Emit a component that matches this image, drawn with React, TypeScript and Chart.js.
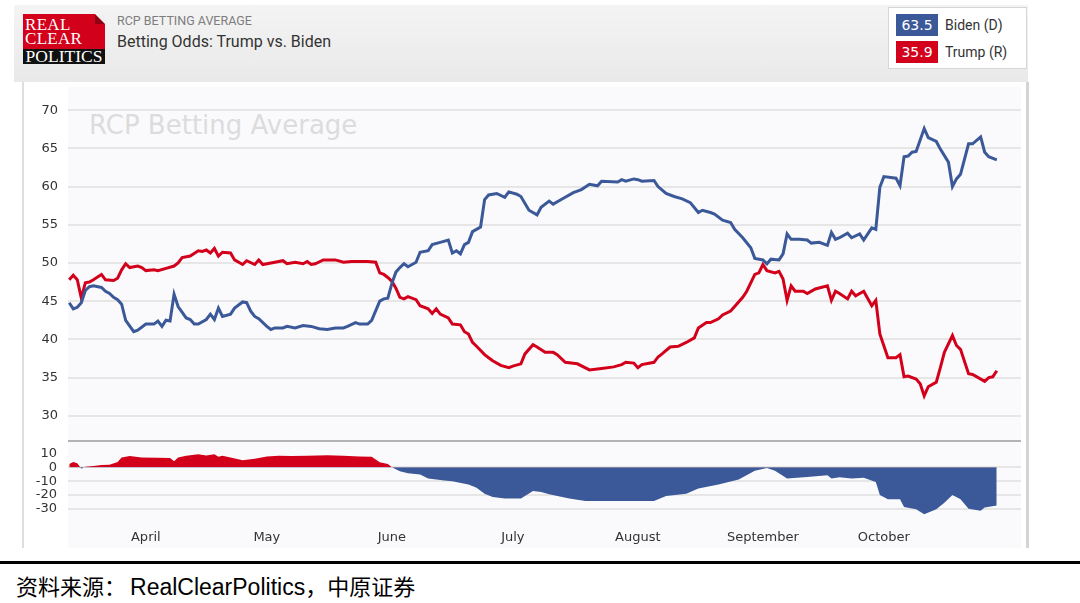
import React, { useEffect, useRef } from "react";
import { Chart, registerables } from "chart.js";

Chart.register(...registerables);

// x values are days counted from 1 April 2020 (negative = March)
const monthDays = [0, 30, 61, 91, 122, 153, 183];
const monthLabels = ["April", "May", "June", "July", "August", "September", "October"];
const mainTicks = [30, 35, 40, 45, 50, 55, 60, 65, 70];
const spreadTicks = [10, 0, -10, -20, -30];

const biden: [number, number][] = [
  [-19, 44.8], [-18, 44.0], [-17, 44.2], [-16, 44.8], [-15, 46.4], [-14, 46.9], [-13, 47.0], [-11, 46.8],
  [-10, 46.3], [-9, 46.0], [-8, 45.5], [-7, 45.2], [-6, 44.6], [-5, 42.5], [-3, 41.0], [-2, 41.2],
  [0, 42.0], [2, 42.0], [3, 42.4], [4, 41.7], [5, 42.5], [6, 42.4], [7, 45.9], [8, 44.3],
  [10, 42.8], [11, 42.6], [12, 42.0], [13, 42.0], [15, 42.6], [16, 43.3], [17, 42.6], [18, 44.1],
  [19, 43.0], [21, 43.3], [22, 44.1], [24, 44.9], [25, 44.8], [26, 43.7], [27, 43.0], [28, 42.7],
  [30, 41.7], [31, 41.3], [32, 41.5], [34, 41.5], [35, 41.7], [37, 41.5], [39, 41.8], [41, 41.7],
  [43, 41.4], [45, 41.3], [47, 41.5], [49, 41.5], [50, 41.7], [52, 42.2], [53, 42.0], [55, 42.0],
  [56, 42.5], [58, 45.0], [59, 45.3], [60, 45.4], [61, 47.3], [62, 48.8], [63, 49.4], [64, 49.9],
  [65, 49.5], [67, 50.1], [68, 51.4], [70, 51.6], [71, 52.4], [73, 52.7], [75, 53.0], [76, 51.3],
  [77, 51.6], [78, 51.2], [79, 52.4], [80, 52.7], [81, 54.1], [83, 54.7], [84, 58.3], [85, 58.9],
  [87, 59.1], [89, 58.6], [90, 59.3], [92, 59.0], [93, 58.7], [95, 56.9], [97, 56.3], [98, 57.3],
  [100, 58.1], [101, 57.7], [103, 58.3], [106, 59.2], [108, 59.6], [110, 60.3], [112, 60.1], [113, 60.7],
  [117, 60.6], [118, 60.9], [119, 60.7], [121, 61.0], [122, 60.9], [123, 60.7], [126, 60.8], [127, 60.0],
  [129, 59.1], [131, 58.7], [133, 58.4], [135, 57.9], [137, 56.6], [138, 56.9], [140, 56.6], [141, 56.4],
  [143, 55.6], [145, 55.3], [146, 54.4], [148, 53.3], [150, 52.0], [151, 50.6], [153, 50.4], [154, 49.9],
  [155, 50.5], [157, 50.4], [158, 51.2], [159, 53.8], [160, 53.1], [162, 53.1], [164, 53.0], [165, 52.6],
  [167, 52.7], [169, 52.3], [170, 54.0], [171, 53.1], [172, 53.3], [174, 53.9], [175, 53.3], [177, 53.8],
  [178, 53.0], [180, 54.6], [181, 54.4], [182, 59.9], [183, 61.3], [186, 61.1], [187, 60.1], [188, 63.9],
  [189, 64.0], [190, 64.5], [191, 64.6], [193, 67.6], [194, 66.4], [196, 65.9], [197, 64.9], [199, 63.2],
  [200, 60.0], [201, 61.0], [202, 61.6], [204, 65.6], [205, 65.6], [207, 66.5], [208, 64.5], [209, 63.9],
  [211, 63.5],
];

const trump: [number, number][] = [
  [-19, 47.8], [-18, 48.4], [-17, 47.8], [-16, 45.4], [-15, 47.4], [-14, 47.5], [-13, 47.8], [-11, 48.5],
  [-10, 47.8], [-8, 47.7], [-7, 48.0], [-6, 49.1], [-5, 49.9], [-4, 49.4], [-2, 49.6], [-1, 49.4],
  [0, 49.0], [2, 49.1], [3, 49.0], [5, 49.3], [7, 49.6], [8, 50.0], [9, 50.7], [11, 50.9],
  [13, 51.6], [14, 51.5], [15, 51.7], [16, 51.3], [17, 51.9], [18, 50.9], [19, 51.4], [21, 51.3],
  [22, 50.4], [24, 49.8], [25, 50.3], [27, 49.8], [28, 50.4], [29, 49.8], [32, 50.1], [34, 50.3],
  [35, 49.9], [37, 50.1], [39, 49.9], [40, 50.2], [41, 49.8], [42, 49.9], [44, 50.4], [47, 50.4],
  [49, 50.1], [51, 50.2], [55, 50.2], [57, 50.1], [58, 48.7], [59, 48.5], [60, 48.1], [61, 47.6],
  [62, 46.7], [63, 45.5], [64, 45.3], [65, 45.6], [67, 45.2], [68, 44.4], [70, 44.0], [71, 43.4],
  [72, 44.0], [73, 43.3], [75, 42.8], [76, 42.0], [78, 41.9], [79, 41.0], [80, 40.7], [81, 39.6],
  [82, 39.1], [84, 38.0], [85, 37.6], [86, 37.2], [88, 36.6], [90, 36.3], [91, 36.5], [93, 36.8],
  [94, 38.1], [96, 39.3], [97, 39.0], [99, 38.3], [101, 38.3], [102, 38.0], [104, 37.0], [107, 36.8],
  [110, 36.0], [113, 36.2], [116, 36.4], [118, 36.7], [119, 37.0], [121, 36.9], [122, 36.3], [123, 36.7],
  [126, 37.0], [127, 37.7], [128, 38.1], [130, 39.0], [132, 39.1], [134, 39.6], [136, 40.2], [137, 41.5],
  [139, 42.2], [140, 42.2], [142, 42.7], [143, 43.2], [145, 43.7], [146, 44.3], [148, 45.5], [149, 46.3],
  [151, 48.5], [152, 48.7], [153, 49.8], [154, 49.0], [156, 48.7], [157, 48.9], [158, 47.9], [159, 45.1],
  [160, 47.0], [161, 46.3], [163, 46.3], [164, 46.0], [166, 46.6], [169, 47.0], [170, 45.1], [171, 46.3],
  [172, 46.0], [174, 45.3], [175, 46.3], [176, 45.7], [178, 46.3], [180, 44.4], [181, 45.1], [182, 40.7],
  [184, 37.6], [186, 37.6], [187, 38.0], [188, 35.1], [189, 35.2], [191, 34.8], [192, 34.2], [193, 32.6],
  [194, 33.8], [196, 34.4], [197, 36.3], [198, 38.3], [200, 40.5], [201, 39.2], [202, 38.7], [204, 35.5],
  [205, 35.4], [208, 34.5], [209, 35.0], [210, 35.1], [211, 35.9],
];

const spread: [number, number][] = [
  [-19, 2.4], [-18, 3.8], [-17, 2.9], [-16, -1.0], [-15, 0.5], [-13, 1.0], [-11, 1.7], [-9, 1.9],
  [-7, 3.8], [-6, 7.1], [-4, 8.1], [-1, 7.1], [3, 6.9], [6, 6.7], [7, 4.3], [8, 7.1],
  [10, 8.3], [13, 9.5], [15, 8.6], [17, 9.5], [18, 7.6], [19, 8.3], [21, 7.1], [24, 5.2],
  [27, 6.2], [30, 7.9], [33, 8.3], [36, 8.1], [40, 8.3], [45, 8.8], [49, 8.3], [53, 7.9],
  [56, 7.6], [58, 3.6], [60, 2.4], [61, 0], [63, -2.9], [65, -4.3], [68, -5.2], [70, -8.1],
  [74, -9.5], [76, -10.0], [80, -12.4], [82, -14.8], [84, -19.0], [86, -21.4], [89, -22.4], [93, -22.4],
  [96, -17.1], [98, -17.8], [100, -19.5], [105, -22.4], [109, -24.3], [118, -24.3], [126, -24.3], [129, -20.7],
  [134, -19.0], [137, -15.2], [142, -12.4], [147, -8.8], [151, -2.4], [154, -0.5], [156, -2.4], [159, -8.1],
  [164, -6.9], [169, -5.7], [170, -8.1], [172, -7.1], [175, -8.1], [178, -7.6], [181, -10.5], [182, -20.0],
  [184, -23.1], [187, -23.1], [188, -28.6], [191, -30.2], [193, -33.8], [196, -30.2], [198, -25.5], [200, -20.0],
  [202, -23.1], [204, -29.8], [207, -31.4], [208, -29.0], [211, -27.6],
];

const bidenLatest = "63.5";
const trumpLatest = "35.9";

const BLUE = "#3b5998";
const RED = "#d3001b";
const TICK_FONT = { family: "'DejaVu Sans', Verdana, sans-serif", size: 13 };
const TICK_COLOR = "#333";

const separatorPlugin = {
  id: "separator",
  afterDatasetsDraw(chart: any) {
    const { ctx, chartArea, scales } = chart;
    const y = Math.max(scales.y.top, scales.y2.top);
    ctx.save();
    ctx.strokeStyle = "#b3b3b3";
    ctx.lineWidth = 2;
    ctx.beginPath();
    ctx.moveTo(chartArea.left, y);
    ctx.lineTo(chartArea.right, y);
    ctx.stroke();
    ctx.restore();
  },
};

const fitY = (s: any) => {
  s.width = 44;
  s.paddingTop = 0;
  s.paddingBottom = 0;
};

function BettingChart() {
  const ref = useRef<HTMLCanvasElement>(null);
  useEffect(() => {
    if (!ref.current) return;
    const toPts = (arr: [number, number][]) => arr.map(([x, y]) => ({ x, y }));
    const chart = new Chart(ref.current, {
      type: "line",
      data: {
        datasets: [
          {
            label: "Spread",
            data: toPts(spread),
            yAxisID: "y2",
            borderColor: "transparent",
            borderWidth: 0,
            pointRadius: 0,
            tension: 0,
            fill: { target: { value: 0 }, above: RED, below: BLUE },
            backgroundColor: RED,
          },
          {
            label: "Biden (D)",
            data: toPts(biden),
            yAxisID: "y",
            borderColor: BLUE,
            borderWidth: 3,
            pointRadius: 0,
            tension: 0,
            fill: false,
          },
          {
            label: "Trump (R)",
            data: toPts(trump),
            yAxisID: "y",
            borderColor: RED,
            borderWidth: 3,
            pointRadius: 0,
            tension: 0,
            fill: false,
          },
        ],
      } as any,
      options: {
        animation: false,
        responsive: false,
        maintainAspectRatio: false,
        layout: { padding: { left: 0, right: 3, top: 2, bottom: 0 } },
        plugins: { legend: { display: false }, tooltip: { enabled: false } },
        scales: {
          x: {
            type: "linear",
            min: -19.3,
            max: 217,
            grid: { display: false, drawTicks: false },
            border: { display: false },
            afterBuildTicks: (s: any) => {
              s.ticks = monthDays.map((v) => ({ value: v }));
            },
            afterFit: (s: any) => {
              s.height = 28;
              s.paddingLeft = 0;
              s.paddingRight = 0;
            },
            ticks: {
              autoSkip: false,
              maxRotation: 0,
              padding: 10,
              font: TICK_FONT,
              color: TICK_COLOR,
              callback: (v: any) => monthLabels[monthDays.indexOf(Number(v))] ?? "",
            },
          },
          y2: {
            type: "linear",
            position: "left",
            stack: "v",
            stackWeight: 79,
            min: -38,
            max: 19,
            afterBuildTicks: (s: any) => {
              s.ticks = spreadTicks.map((v) => ({ value: v }));
            },
            afterFit: fitY,
            grid: {
              drawTicks: false,
              lineWidth: 2,
              color: (c: any) => (c.tick && c.tick.value > 0 ? "rgba(0,0,0,0)" : "#e6e6e6"),
            },
            border: { display: false },
            ticks: { autoSkip: false, padding: 11, font: TICK_FONT, color: TICK_COLOR },
          },
          y: {
            type: "linear",
            position: "left",
            stack: "v",
            stackWeight: 353,
            min: 26.7,
            max: 72.9,
            afterBuildTicks: (s: any) => {
              s.ticks = mainTicks.map((v) => ({ value: v }));
            },
            afterFit: fitY,
            grid: { drawTicks: false, lineWidth: 2, color: "#e6e6e6" },
            border: { display: false },
            ticks: { autoSkip: false, padding: 10, font: TICK_FONT, color: TICK_COLOR },
          },
        },
      } as any,
      plugins: [separatorPlugin],
    });
    return () => chart.destroy();
  }, []);
  return (
    <canvas
      ref={ref}
      width={1000}
      height={462}
      style={{ position: "absolute", left: 24, top: 86, width: 1000, height: 462 }}
    />
  );
}

export default function App() {
  const sans = "Roboto, 'Liberation Sans', Arial, sans-serif";
  return (
    <div
      style={{
        position: "absolute",
        left: 0,
        top: 0,
        width: 1080,
        height: 603,
        background: "#fff",
        overflow: "hidden",
        fontFamily: sans,
      }}
    >
      {/* header */}
      <div
        style={{
          position: "absolute",
          left: 14,
          top: 5,
          width: 1014,
          height: 77,
          background: "linear-gradient(#f4f4f4, #e9e9e9)",
        }}
      />
      {/* logo */}
      <div style={{ position: "absolute", left: 23, top: 14, width: 82, height: 50, background: "#d3001b", overflow: "hidden" }}>
        <div
          style={{
            position: "absolute",
            right: 0,
            top: 0,
            width: 0,
            height: 0,
            borderTop: "10px solid #f0f0f0",
            borderLeft: "10px solid #8e0012",
          }}
        />
        <div
          style={{
            position: "absolute",
            left: 2,
            top: 4,
            color: "#fff",
            fontFamily: "'Liberation Serif', 'Times New Roman', serif",
            fontSize: 17,
            lineHeight: "14px",
            letterSpacing: 0.3,
          }}
        >
          REAL
          <br />
          CLEAR
        </div>
        <div
          style={{
            position: "absolute",
            left: 0,
            top: 35,
            width: 82,
            height: 15,
            background: "#111",
            color: "#fff",
            fontFamily: "'Liberation Serif', 'Times New Roman', serif",
            fontSize: 17.5,
            lineHeight: "15px",
            textAlign: "center",
          }}
        >
          POLITICS
        </div>
      </div>
      <div style={{ position: "absolute", left: 117, top: 13, fontSize: 12.5, color: "#7d7d7d", whiteSpace: "nowrap" }}>
        RCP BETTING AVERAGE
      </div>
      <div style={{ position: "absolute", left: 117, top: 32, fontSize: 16, color: "#333", whiteSpace: "nowrap" }}>
        Betting Odds: Trump vs. Biden
      </div>
      {/* legend */}
      <div
        style={{
          position: "absolute",
          left: 888,
          top: 7,
          width: 139,
          height: 62,
          background: "#fff",
          border: "1px solid #d6d6d6",
          boxSizing: "border-box",
        }}
      >
        {[
          { v: bidenLatest, name: "Biden (D)", c: BLUE, top: 6 },
          { v: trumpLatest, name: "Trump (R)", c: RED, top: 33 },
        ].map((it) => (
          <div key={it.name} style={{ position: "absolute", left: 7, top: it.top, height: 22, display: "flex", alignItems: "center" }}>
            <div
              style={{
                width: 42,
                height: 22,
                background: it.c,
                color: "#fff",
                fontFamily: "'DejaVu Sans', Verdana, sans-serif",
                fontSize: 14,
                lineHeight: "22px",
                textAlign: "center",
              }}
            >
              {it.v}
            </div>
            <div style={{ marginLeft: 7, fontSize: 14, color: "#333", whiteSpace: "nowrap" }}>{it.name}</div>
          </div>
        ))}
      </div>
      {/* chart panel */}
      <div
        style={{
          position: "absolute",
          left: 22,
          top: 82,
          width: 1007,
          height: 466,
          background: "#fff",
          borderLeft: "2px solid #dedede",
          borderRight: "3px solid #d4d4d4",
          boxSizing: "border-box",
        }}
      />
      <div style={{ position: "absolute", left: 68, top: 87, width: 953, height: 461, background: "#fafafc" }} />
      <div
        style={{
          position: "absolute",
          left: 89,
          top: 110,
          fontFamily: "'DejaVu Sans', Verdana, sans-serif",
          fontSize: 26,
          color: "#dcdcdc",
          whiteSpace: "nowrap",
        }}
      >
        RCP Betting Average
      </div>
      <BettingChart />
      {/* footer */}
      <div style={{ position: "absolute", left: 0, top: 561, width: 1080, height: 3, background: "#000" }} />
      <div
        style={{
          position: "absolute",
          left: 16,
          top: 569,
          fontSize: 22,
          color: "#000",
          whiteSpace: "nowrap",
          fontFamily: "'Noto Sans CJK SC', sans-serif",
        }}
      >
        资料来源：
        <span style={{ fontFamily: "'Liberation Sans', Arial, sans-serif", fontSize: 23, marginLeft: 4 }}>RealClearPolitics</span>
        ，中原证券
      </div>
    </div>
  );
}
